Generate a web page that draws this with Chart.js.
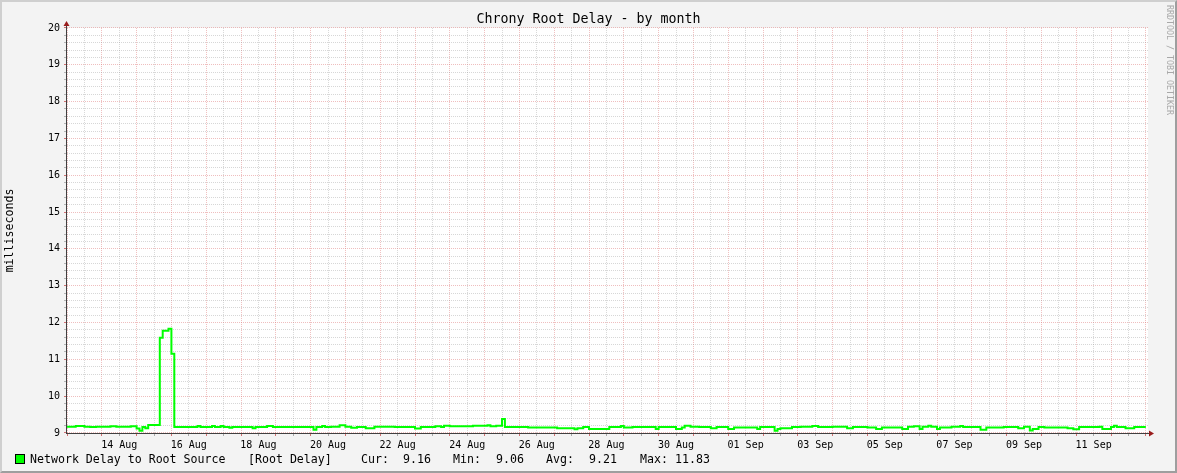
<!DOCTYPE html>
<html>
<head>
<meta charset="utf-8">
<script src="https://cdn.jsdelivr.net/npm/chart.js@4.4.0/dist/chart.umd.min.js"></script>
<style>
html, body { margin: 0; padding: 0; background: #f3f3f3; }
#frame {
    position: absolute; left: 0; top: 0; width: 1177px; height: 473px; box-sizing: border-box;
    border-top: 2px solid #cfcfcf; border-left: 2px solid #cfcfcf;
    border-right: 2px solid #9e9e9e; border-bottom: 2px solid #9e9e9e;
    background: #f3f3f3;
}
#chart { position: absolute; left: 0; top: 0; z-index: 1; }
.mono { font-family: "DejaVu Sans Mono", monospace; }
.leg { position: absolute; top: 451px; font-size: 11.6px; line-height: 16px; color: #000; white-space: pre; z-index: 2; }
#legbox { position: absolute; left: 15px; top: 454px; width: 8px; height: 8px; background: #00ff00; border: 1px solid #000; z-index: 2; }
#mark { position: absolute; left: 1165px; top: 5px; writing-mode: vertical-rl; font-size: 8.3px; color: #a8a8a8; z-index: 2; }
</style>
</head>
<body>
<div id="frame"></div>
<canvas id="chart" width="1177" height="473"></canvas>
<div id="legbox"></div>
<div class="leg mono" style="left:30px">Network Delay to Root Source</div>
<div class="leg mono" style="left:248px">[Root Delay]</div>
<div class="leg mono" style="left:361px">Cur:</div>
<div class="leg mono" style="left:403px">9.16</div>
<div class="leg mono" style="left:453px">Min:</div>
<div class="leg mono" style="left:496px">9.06</div>
<div class="leg mono" style="left:546px">Avg:</div>
<div class="leg mono" style="left:589px">9.21</div>
<div class="leg mono" style="left:640px">Max:</div>
<div class="leg mono" style="left:675px">11.83</div>
<div id="mark" class="mono">RRDTOOL / TOBI OETIKER</div>
<script>
// hours since 13 Aug 00:00, value holds until the next entry
const hours = [0, 6, 12, 16, 20, 30, 34, 44, 48, 50, 52, 54, 56, 64, 66, 70, 72, 74, 90, 92,
    100, 102, 106, 108, 112, 114, 128, 130, 138, 142, 170, 172, 176, 178, 182, 188, 192, 196, 200, 206,
    212, 226, 240, 244, 254, 258, 260, 264, 280, 290, 292, 296, 300, 302, 318, 338, 350, 352, 356, 360,
    374, 382, 384, 390, 406, 408, 420, 424, 426, 430, 436, 444, 448, 456, 460, 476, 478, 488, 490, 492,
    500, 506, 514, 518, 528, 538, 542, 552, 558, 562, 576, 580, 584, 588, 590, 594, 596, 600, 602, 610,
    616, 618, 630, 634, 646, 656, 660, 664, 666, 670, 674, 690, 694, 698, 712, 714, 720, 722, 724, 730,
    736, 744];
const delay = [9.17, 9.19, 9.17, 9.16, 9.17, 9.18, 9.17, 9.18, 9.12, 9.06, 9.16, 9.13, 9.22, 11.59, 11.78, 11.83, 11.15, 9.16, 9.19, 9.16,
    9.19, 9.16, 9.19, 9.16, 9.14, 9.16, 9.13, 9.16, 9.19, 9.16, 9.09, 9.16, 9.19, 9.16, 9.17, 9.21, 9.17, 9.14, 9.16, 9.13,
    9.17, 9.16, 9.12, 9.16, 9.18, 9.16, 9.20, 9.18, 9.20, 9.21, 9.18, 9.20, 9.38, 9.16, 9.15, 9.13, 9.10, 9.13, 9.16, 9.11,
    9.16, 9.19, 9.15, 9.16, 9.11, 9.16, 9.11, 9.15, 9.20, 9.17, 9.16, 9.13, 9.16, 9.11, 9.15, 9.11, 9.16, 9.06, 9.11, 9.13,
    9.16, 9.17, 9.19, 9.16, 9.17, 9.13, 9.16, 9.15, 9.11, 9.15, 9.11, 9.17, 9.18, 9.11, 9.17, 9.20, 9.17, 9.11, 9.15, 9.17,
    9.19, 9.16, 9.09, 9.15, 9.16, 9.13, 9.17, 9.07, 9.11, 9.16, 9.15, 9.13, 9.10, 9.16, 9.17, 9.11, 9.16, 9.20, 9.16, 9.13,
    9.16, 9.16];

const tickLabels = ['14 Aug', '16 Aug', '18 Aug', '20 Aug', '22 Aug', '24 Aug', '26 Aug', '28 Aug',
    '30 Aug', '01 Sep', '03 Sep', '05 Sep', '07 Sep', '09 Sep', '11 Sep'];
const firstLabelHour = 36;
const labelStep = 48;

const MAJOR = 'rgba(220,110,110,0.45)';
const MINOR = 'rgba(140,140,140,0.35)';
const isInt = v => Math.abs(v - Math.round(v)) < 1e-6;

// white canvas, axis lines and the little arrows
const rrdFrame = {
    id: 'rrdFrame',
    beforeDraw(chart) {
        const { ctx, chartArea: a } = chart;
        ctx.save();
        ctx.fillStyle = '#ffffff';
        ctx.fillRect(a.left, a.top, a.right - a.left, a.bottom - a.top);
        ctx.restore();
    },
    afterDraw(chart) {
        const { ctx, chartArea: a } = chart;
        ctx.save();
        ctx.strokeStyle = '#404040';
        ctx.lineWidth = 1;
        ctx.beginPath();
        ctx.moveTo(a.left - 0.5, a.bottom);
        ctx.lineTo(a.left - 0.5, a.top - 4);
        ctx.moveTo(a.left - 1, a.bottom + 0.5);
        ctx.lineTo(a.right + 2, a.bottom + 0.5);
        ctx.stroke();
        ctx.fillStyle = '#9a1c1c';
        ctx.beginPath();
        ctx.moveTo(a.left - 0.5, a.top - 7);
        ctx.lineTo(a.left - 3.5, a.top - 2);
        ctx.lineTo(a.left + 2.5, a.top - 2);
        ctx.closePath();
        ctx.fill();
        ctx.beginPath();
        ctx.moveTo(a.right + 6, a.bottom + 0.5);
        ctx.lineTo(a.right + 1, a.bottom - 2.5);
        ctx.lineTo(a.right + 1, a.bottom + 3.5);
        ctx.closePath();
        ctx.fill();
        ctx.restore();
    }
};

const ctx = document.getElementById('chart').getContext('2d');
new Chart(ctx, {
    type: 'line',
    data: {
        datasets: [{
            label: 'Network Delay to Root Source',
            data: hours.map((h, i) => ({ x: h, y: delay[i] })),
            borderColor: '#00ff00',
            borderWidth: 2,
            pointRadius: 0,
            stepped: true,
            fill: false
        }]
    },
    options: {
        responsive: false,
        animation: false,
        devicePixelRatio: 1,
        layout: { padding: 0 },
        plugins: {
            legend: { display: false },
            tooltip: { enabled: false },
            title: {
                display: true,
                text: 'Chrony Root Delay - by month',
                color: '#000',
                font: { family: 'DejaVu Sans Mono', size: 13.3, weight: 'normal', lineHeight: 1.2 },
                padding: { top: 12, bottom: 0 }
            }
        },
        scales: {
            x: {
                type: 'linear',
                min: 0,
                max: 745.5,
                afterBuildTicks: s => {
                    const t = [];
                    for (let h = 0; h <= 744; h += 12) t.push({ value: h });
                    s.ticks = t;
                },
                afterFit: s => { s.height = 40; },
                grid: {
                    color: c => (c.tick && c.tick.value % 24 === 0) ? MAJOR : MINOR,
                    tickColor: c => (c.tick && c.tick.value % 24 === 0) ? 'rgba(200,80,80,0.8)' : 'rgba(120,120,120,0.6)',
                    lineWidth: 1,
                    tickLength: 3
                },
                border: { display: false, dash: [1, 1] },
                ticks: {
                    autoSkip: false,
                    maxRotation: 0,
                    minRotation: 0,
                    padding: 3,
                    color: '#000',
                    font: { family: 'DejaVu Sans Mono', size: 10 },
                    callback: v => {
                        const k = (v - firstLabelHour) / labelStep;
                        return (Number.isInteger(k) && k >= 0 && k < tickLabels.length) ? tickLabels[k] : '';
                    }
                }
            },
            y: {
                min: 9,
                max: 20,
                afterBuildTicks: s => {
                    const t = [];
                    for (let i = 0; i <= 55; i++) t.push({ value: Math.round((9 + i * 0.2) * 10) / 10 });
                    s.ticks = t;
                },
                afterFit: s => { s.width = 67; },
                grid: {
                    color: c => (c.tick && isInt(c.tick.value)) ? MAJOR : MINOR,
                    tickColor: c => (c.tick && isInt(c.tick.value)) ? 'rgba(200,80,80,0.8)' : 'rgba(120,120,120,0.5)',
                    lineWidth: 1,
                    tickLength: 3
                },
                border: { display: false, dash: [1, 1] },
                title: {
                    display: true,
                    text: 'milliseconds',
                    color: '#000',
                    font: { family: 'DejaVu Sans Mono', size: 11.6 },
                    padding: { top: 3, bottom: 0 }
                },
                ticks: {
                    autoSkip: false,
                    padding: 4,
                    color: '#000',
                    font: { family: 'DejaVu Sans Mono', size: 10 },
                    callback: v => isInt(v) ? String(Math.round(v)) : ''
                }
            },
            // empty right-hand strip, keeps the title centred on the whole image
            pad: {
                type: 'linear',
                position: 'right',
                min: 0,
                max: 1,
                afterFit: s => { s.width = 29; },
                grid: { display: false },
                border: { display: false },
                ticks: { display: false }
            }
        }
    },
    plugins: [rrdFrame]
});
</script>
</body>
</html>
